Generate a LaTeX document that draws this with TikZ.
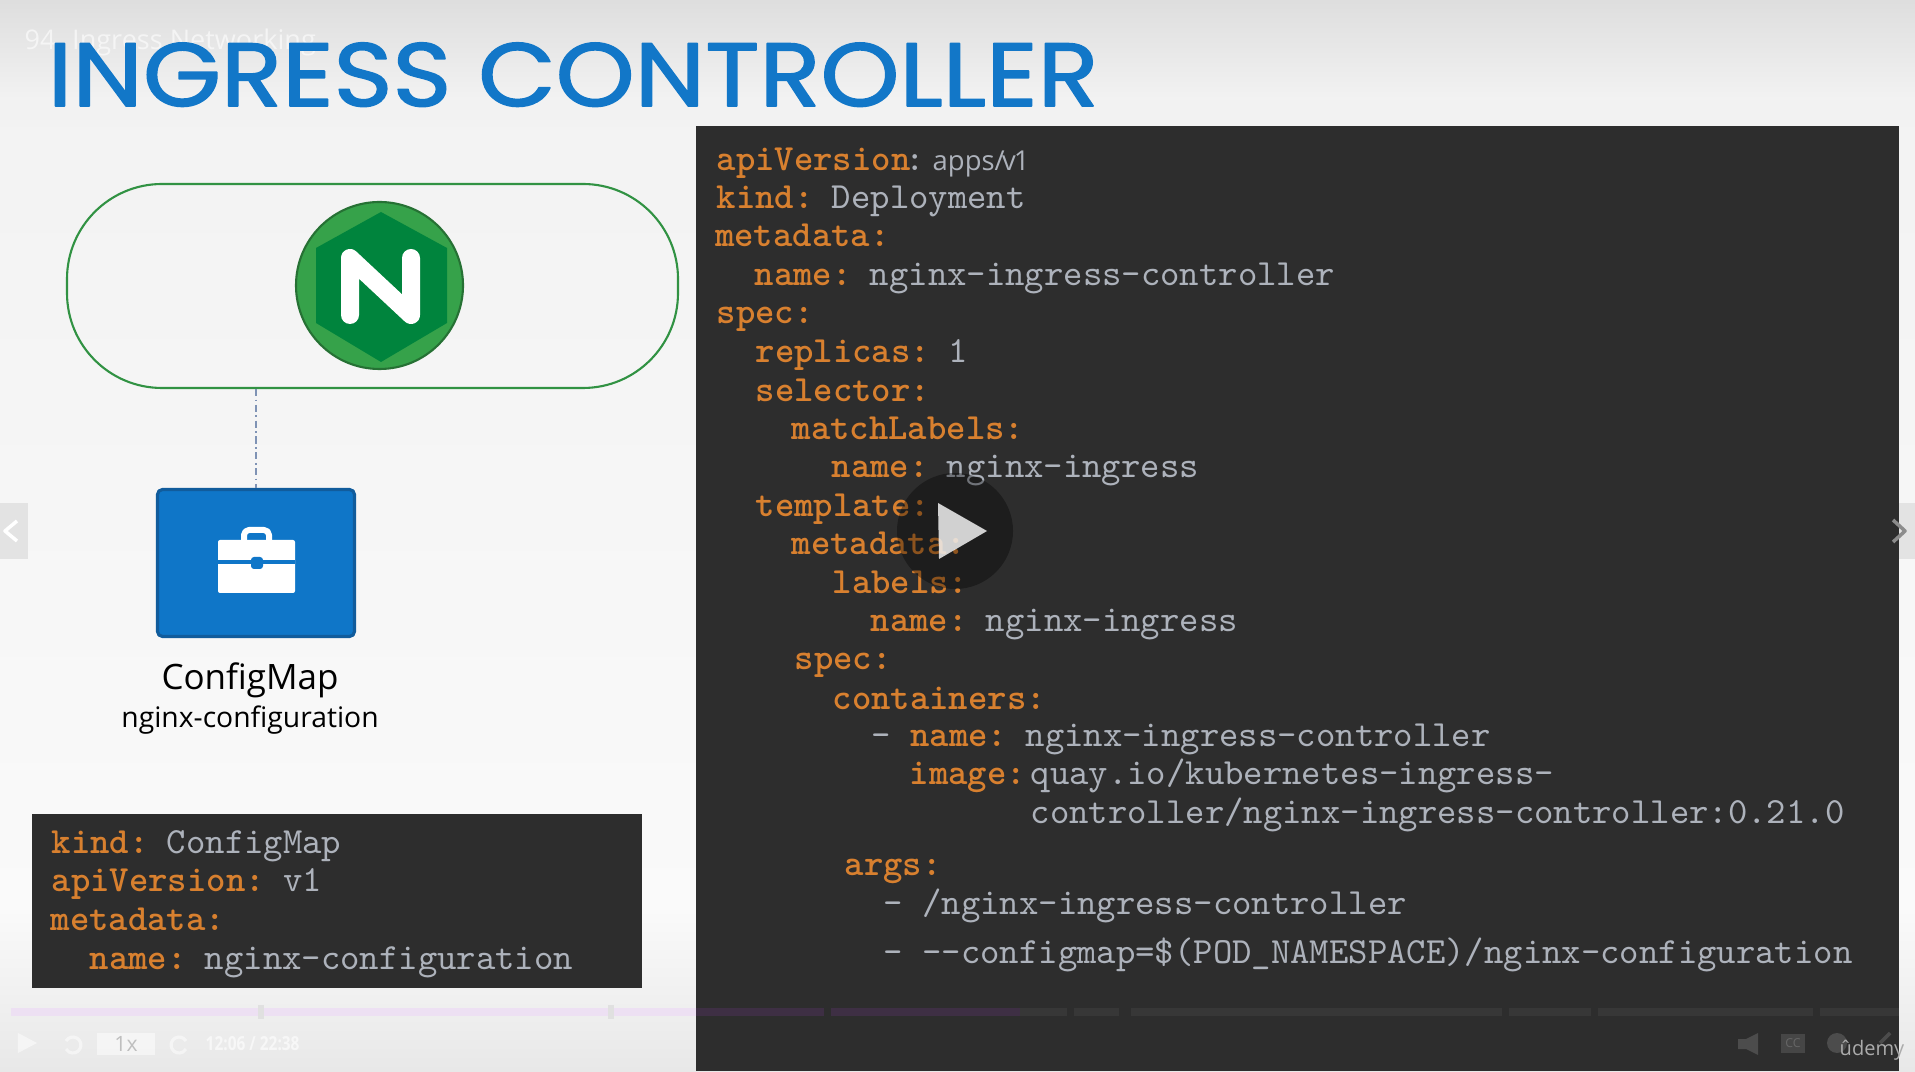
\documentclass[tikz,border=0pt]{standalone}
\usepackage{fontspec}
\usepackage{xcolor}
\usetikzlibrary{positioning}
\setmainfont{Open Sans}
\newfontfamily\titlefont{Poppins}[FakeStretch=1.12,FakeBold=1.8]
\newfontfamily\clockfont{Open Sans}[FakeStretch=0.8]
\definecolor{titleblue}{HTML}{1277C8}
\definecolor{panelgray}{HTML}{2D2D2D}
\definecolor{keyorange}{HTML}{D8802F}
\definecolor{valgray}{HTML}{ADB2BB}
\definecolor{ngxlight}{HTML}{36A24A}
\definecolor{ngxdark}{HTML}{00843D}
\definecolor{mapblue}{HTML}{0F76C8}
\definecolor{mapedge}{HTML}{115C9C}
\definecolor{barlilac}{HTML}{EDE0F3}
\definecolor{barpurple}{HTML}{3E2F44}
\definecolor{bargray}{HTML}{373737}
\definecolor{linkgray}{HTML}{7F93B5}
\newcommand{\yk}[1]{\textcolor{keyorange}{\bfseries #1}\kern-0.075cm\relax}
\tikzset{
	codeline/.style={anchor=base west, inner sep=0pt, text=valgray, font=\ttfamily\fontsize{10.5}{12}\selectfont},
	playerbit/.style={white, opacity=0.5},
	navbox/.style={fill=black!11},
}
\begin{document}
\begin{tikzpicture}[line join=round]
		\useasboundingbox (0,0) rectangle (19.15,10.71);
		%background
		\fill[top color=black!13, bottom color=black!5] (0,9.71) rectangle (19.15,10.71);
		\fill[top color=black!5, bottom color=black!2] (0,1.61) rectangle (19.15,9.71);
		\fill[top color=black!2, bottom color=black!9] (0,0) rectangle (19.15,1.61);
		\fill[navbox] (0,5.12) rectangle (0.28,5.68);
		\fill[navbox] (18.99,5.12) rectangle (19.15,5.68);
		\draw[white, line width=1pt] (0.17,5.50) -- (0.05,5.40) -- (0.17,5.30);

		%title
		\node[anchor=base west, inner sep=0pt, text=white, opacity=0.6, font=\fontsize{7.7}{10}\selectfont] (lecture) at (0.24,10.21) {94. Ingress Networking};
		\node[anchor=base west, inner sep=0pt, text=titleblue, font=\titlefont\fontsize{25.5}{30}\selectfont] (title) at (0.47,9.65) {INGRESS CONTROLLER};

		%controller pill and logo
		\node[draw=ngxlight!90!black, line width=0.6pt, rounded corners=0.95cm, minimum width=6.11cm, minimum height=2.04cm] (pill) at (3.725,7.85) {};
		\filldraw[draw=ngxlight!70!black, fill=ngxlight, line width=0.6pt] (3.795,7.855) circle (0.835);
		\fill[ngxdark] (3.81,8.59) -- (4.47,8.23) -- (4.47,7.48) -- (3.81,7.09) -- (3.16,7.48) -- (3.16,8.23) -- cycle;
		\draw[white, line width=0.18cm, line cap=round] (3.50,7.56) -- (3.50,8.13) -- (4.11,7.56) -- (4.11,8.13);

		%configmap box
		\node[draw=mapedge, fill=mapblue, line width=0.9pt, rounded corners=0.05cm, minimum width=1.97cm, minimum height=1.47cm, inner sep=0pt] (mapbox) at (2.56,5.08) {};
		\draw[linkgray, line width=0.4pt, dash pattern=on 2pt off 1pt on 0.5pt off 1pt] (mapbox.north |- pill.south) -- (mapbox.north);
		\draw[white, line width=0.06cm, rounded corners=0.05cm] (2.44,5.31) -- (2.44,5.41) -- (2.69,5.41) -- (2.69,5.31);
		\fill[white, rounded corners=0.02cm] (2.18,4.78) rectangle (2.95,5.31);
		\draw[mapblue, line width=0.035cm] (2.18,5.09) -- (2.95,5.09);
		\fill[mapblue, rounded corners=0.03cm] (2.51,5.02) rectangle (2.63,5.14);

		\node[anchor=base, inner sep=0pt, font=\fontsize{9.95}{11}\selectfont] (maplabel) at (2.50,3.815) {ConfigMap};
		\node[anchor=base, inner sep=0pt, font=\fontsize{8.05}{10}\selectfont] (mapname) at (2.50,3.435) {nginx-configuration};

		%left code panel
		\fill[panelgray] (0.32,0.83) rectangle (6.42,2.57);
		\node[codeline] (cmkind) at (0.51,2.18) {\yk{kind:} ConfigMap};
		\node[codeline] (cmapi) at (0.51,1.80) {\yk{apiVersion:} v1};
		\node[codeline] (cmmeta) at (0.50,1.41) {\yk{metadata:}};
		\node[codeline] (cmname) at (0.89,1.02) {\yk{name:} nginx-configuration};

		%right code panel
		\fill[panelgray] (6.96,0) rectangle (18.99,9.45);
		\node[codeline] (apikey) at (7.16,9.00) {\yk{apiVersion}\kern0.03cm\relax:};
		\node[anchor=base west, inner sep=0pt, text=valgray, font=\fontsize{7.8}{10}\selectfont] (apival) at (9.32,9.00) {apps/\kern-0.025cm\relax v\kern-0.02cm\relax 1};
		\node[codeline] (kindln) at (7.16,8.62) {\yk{kind:} Deployment};
		\node[codeline] (metaln) at (7.145,8.24) {\yk{metadata:}};
		\node[codeline] (nameln) at (7.54,7.85) {\yk{name:} nginx-ingress-controller};
		\node[codeline] (specln) at (7.16,7.47) {\yk{spec:}};
		\node[codeline] (replln) at (7.55,7.08) {\yk{replicas:} 1};
		\node[codeline] (seleln) at (7.55,6.69) {\yk{selector:}};
		\node[codeline] (matchln) at (7.91,6.31) {\yk{matchLabels:}};
		\node[codeline] (mnameln) at (8.31,5.93) {\yk{name:} nginx-ingress};
		\node[codeline] (templln) at (7.55,5.54) {\yk{template:}};
		\node[codeline] (tmetaln) at (7.91,5.16) {\yk{metadata:}};
		\node[codeline] (labelln) at (8.32,4.77) {\yk{labels:}};
		\node[codeline] (lnameln) at (8.70,4.39) {\yk{name:} nginx-ingress};
		\node[codeline] (tspecln) at (7.94,4.01) {\yk{spec:}};
		\node[codeline] (contln) at (8.32,3.62) {\yk{containers:}};
		\node[codeline] (cnameln) at (8.71,3.25) {- \yk{name:} nginx-ingress-controller};
		\node[codeline] (imageln) at (9.09,2.87) {\yk{image:}};
		\node[codeline] (imgval) at (10.30,2.87) {quay.io/kubernetes-ingress-};
		\node[codeline] (imgvaltwo) at (10.30,2.48) {controller/nginx-ingress-controller:0.21.0};
		\node[codeline] (argsln) at (8.44,1.96) {\yk{args:}};
		\node[codeline] (argoneln) at (8.83,1.57) {- /nginx-ingress-controller};
		\node[codeline] (argtwoln) at (8.83,1.08) {- --configmap=\$(POD\_NAMESPACE)/nginx-configuration};
		\draw[black!45, line width=1pt] (18.93,5.51) -- (19.05,5.40) -- (18.93,5.29);

		%progress bar
		\fill[barlilac] (0.11,0.55) rectangle (6.96,0.63);
		\foreach \a/\b in {6.96/8.24,8.31/10.20}
		\fill[barpurple] (\a,0.55) rectangle (\b,0.63);
		\foreach \a/\b in {10.20/10.67,10.74/11.19,11.31/15.02,15.09/15.91,15.98/18.13,18.20/18.99}
		\fill[bargray] (\a,0.55) rectangle (\b,0.63);
		\foreach \x in {2.61,6.11}
		\fill[black!12] (\x-0.03,0.52) rectangle (\x+0.03,0.66);

		%play button
		\fill[black, opacity=0.35] (9.55,5.40) circle (0.58);
		\fill[white, opacity=0.8] (9.38,5.68) -- (9.87,5.40) -- (9.39,5.12) -- cycle;

		%player controls
		\fill[playerbit] (0.18,0.38) -- (0.37,0.28) -- (0.18,0.18) -- cycle;
		\draw[playerbit, line width=0.9pt] (0.66,0.30) arc (150:-150:0.08);
		\fill[playerbit] (0.97,0.16) rectangle (1.55,0.38);
		\node[inner sep=0pt, text=black!25, font=\fontsize{6}{7}\selectfont] (speed) at (1.26,0.27) {1x};
		\draw[playerbit, line width=0.9pt] (1.86,0.30) arc (30:330:0.08);
		\node[anchor=west, inner sep=0pt, text=white, opacity=0.6, font=\clockfont\bfseries\fontsize{5.5}{7}\selectfont] (clock) at (2.05,0.27) {12:06 / 22:38};
		\fill[white!15!panelgray] (17.38,0.22) rectangle (17.46,0.32) -- (17.58,0.38) -- (17.58,0.16) -- (17.46,0.22) -- cycle;
		\node[inner sep=0pt, fill=white!12!panelgray, text=black!60, minimum width=0.24cm, minimum height=0.19cm, font=\fontsize{3.5}{4}\selectfont] (ccbox) at (17.93,0.275) {CC};
		\fill[white!15!panelgray] (18.37,0.28) circle (0.1);
		\draw[white!15!panelgray, line width=1pt] (18.80,0.28) -- (18.90,0.38);
		\node[anchor=base west, inner sep=0pt, text=black!33, font=\fontsize{5.7}{8}\selectfont] (brand) at (18.39,0.16) {ûdemy};
\end{tikzpicture}
\end{document}
